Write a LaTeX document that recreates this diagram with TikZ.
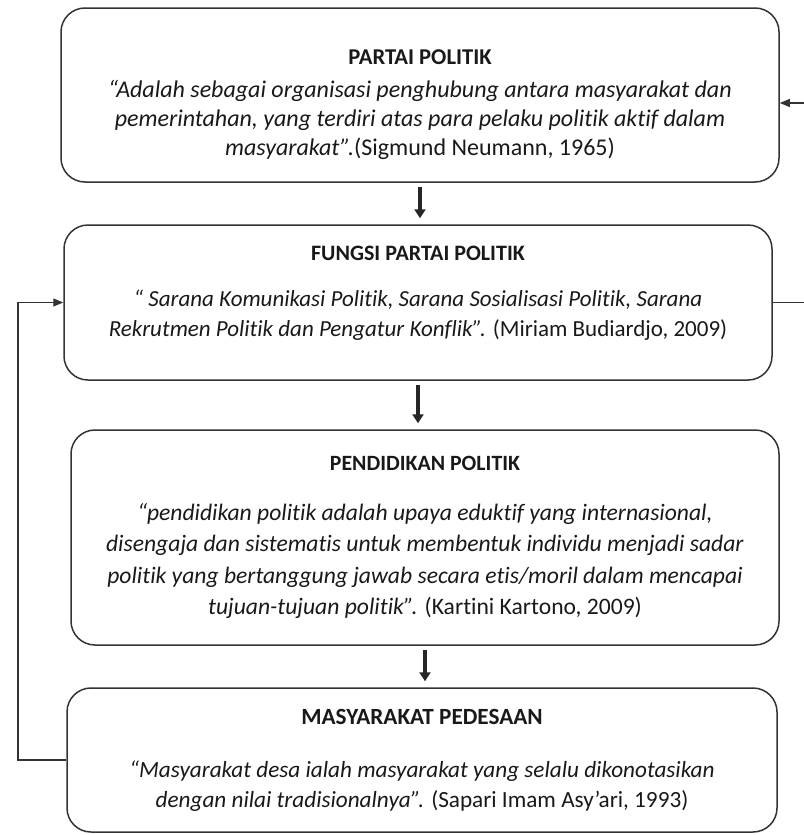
\documentclass[tikz,border=0pt]{standalone}
\usepackage{fontspec}
\setmainfont{Carlito}[Ligatures={NoCommon}]
\usetikzlibrary{arrows.meta,positioning}

\begin{document}
\begin{tikzpicture}[x=1pt,y=-1pt,
  konsep/.style={rectangle,rounded corners=24pt,draw=black!80,line width=1.5pt,
                 align=center,inner sep=0pt,text=black!90},
  turun/.style={-{Triangle[width=11pt,length=9pt]},line width=3.4pt,black!85,
                shorten <=4pt,shorten >=6pt},
  balik/.style={-{Triangle[width=8pt,length=10pt]},line width=1.1pt,black!80}
]
  \useasboundingbox (0,0) rectangle (803,835);

  \node[konsep,minimum width=718pt,minimum height=174pt,
        font=\fontsize{24}{29}\selectfont] (partai) at (420,95) {
    \rule{0pt}{35pt}{\fontsize{22.6}{29}\selectfont\bfseries PARTAI POLITIK}\\[4pt]
    \textit{“Adalah sebagai organisasi penghubung antara masyarakat dan}\\
    \textit{pemerintahan, yang terdiri atas para pelaku politik aktif dalam}\\
    \textit{masyarakat”.}(Sigmund Neumann, 1965)
  };
  \node[konsep,minimum width=708pt,minimum height=155pt,
        font=\fontsize{23}{30}\selectfont] (fungsi) at (418,302.5) {
    {\fontsize{22}{30}\selectfont\bfseries FUNGSI PARTAI POLITIK}\\[16pt]
    \textit{“ Sarana Komunikasi Politik, Sarana Sosialisasi Politik, Sarana}\\
    \textit{Rekrutmen Politik dan Pengatur Konflik”.} (Miriam Budiardjo, 2009)\rule[-22pt]{0pt}{0pt}
  };
  \node[konsep,minimum width=708pt,minimum height=215pt,
        font=\fontsize{23.6}{31.5}\selectfont] (pendidikan) at (425,537.5) {
    {\fontsize{21.8}{31.5}\selectfont\bfseries PENDIDIKAN POLITIK}\\[18.5pt]
    \textit{“pendidikan politik adalah upaya eduktif yang internasional,}\\
    \textit{disengaja dan sistematis untuk membentuk individu menjadi sadar}\\
    \textit{politik yang bertanggung jawab secara etis/moril dalam mencapai}\\
    \textit{tujuan-tujuan politik”.} (Kartini Kartono, 2009)
  };
  \node[konsep,minimum width=710pt,minimum height=144pt,
        font=\fontsize{23.2}{30}\selectfont] (masyarakat) at (422,760) {
    {\fontsize{23.2}{30}\selectfont\bfseries MASYARAKAT PEDESAAN}\\[23pt]
    \textit{“Masyarakat desa ialah masyarakat yang selalu dikonotasikan}\\
    \textit{dengan nilai tradisionalnya”.} (Sapari Imam Asy’ari, 1993)
  };

  % alur ke bawah
  \draw[turun] (partai.south) -- (partai.south |- fungsi.north);
  \draw[turun] (fungsi.south) -- (fungsi.south |- pendidikan.north);
  \draw[turun] (pendidikan.south) -- (pendidikan.south |- masyarakat.north);

  % umpan balik
  \coordinate (kiri) at (18,760);
  \coordinate (kanan) at (840,302.5);
  \draw[balik] (masyarakat.west) -- (kiri) |- (fungsi.west);
  \draw[balik] (fungsi.east) -- (kanan) |- ([yshift=-8pt]partai.east);
\end{tikzpicture}
\end{document}
